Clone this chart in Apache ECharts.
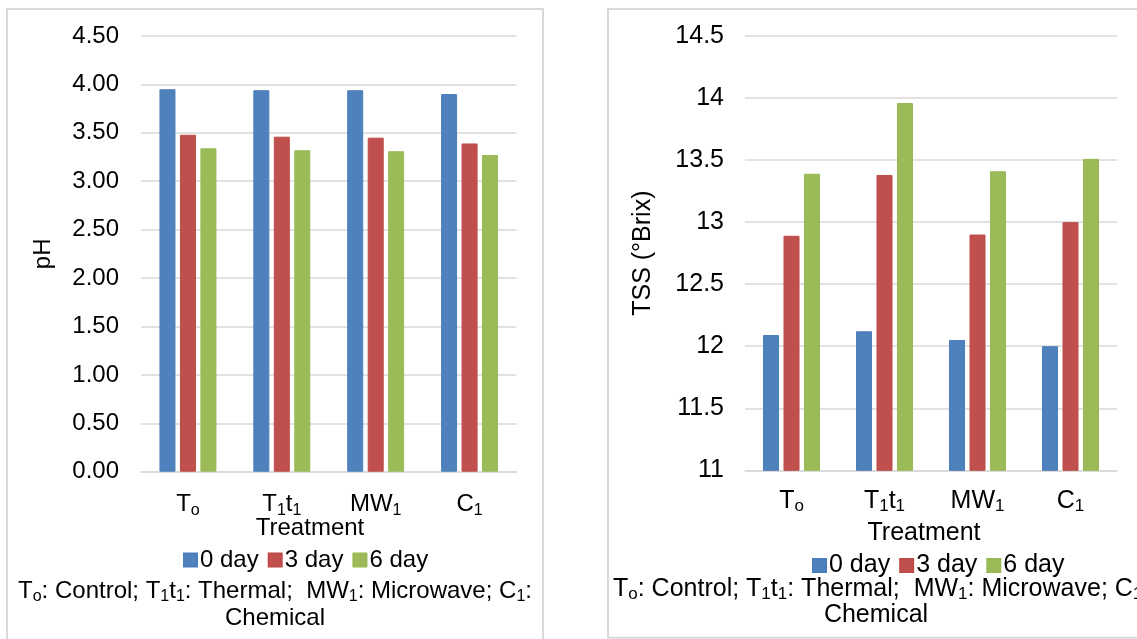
<!DOCTYPE html>
<html>
<head>
<meta charset="utf-8">
<script src="https://cdn.jsdelivr.net/npm/echarts@6/dist/echarts.min.js"></script>
<style>
  html, body { margin: 0; padding: 0; background: #fff; }
  #main { width: 1137px; height: 639px; }
</style>
</head>
<body>
<div id="main"></div>
<script>
// categories as rich text (subscripts)
var categories = ["{a|T}{s|o}", "{a|T}{s|1}{a|t}{s|1}", "{a|MW}{s|1}", "{a|C}{s|1}"];
var seriesNames = ["0 day", "3 day", "6 day"];

// pH values
var ph0 = [3.95, 3.94, 3.94, 3.90];
var ph3 = [3.48, 3.46, 3.45, 3.39];
var ph6 = [3.34, 3.32, 3.31, 3.27];

// TSS (°Brix) values
var tss0 = [12.09, 12.12, 12.05, 12.00];
var tss3 = [12.89, 13.38, 12.90, 13.00];
var tss6 = [13.39, 13.96, 13.41, 13.51];

var colors = ["#4F81BD", "#C0504D", "#9BBB59"];
var borders = ["#4A7EBB", "#BE4B48", "#98B954"];

var footnote = "{a|T}{s|o}{a|: Control; T}{s|1}{a|t}{s|1}{a|: Thermal;  MW}{s|1}{a|: Microwave; C}{s|1}{a|:}";

var fontFamily = "'Liberation Sans', Arial, sans-serif";
var fsL = 24, fsR = 25;

function rich(size) {
  return {
    a: { fontSize: size, lineHeight: 28, color: "#000", fontFamily: fontFamily },
    s: { fontSize: Math.round(size * 0.68), lineHeight: 16, verticalAlign: "bottom", color: "#000", fontFamily: fontFamily }
  };
}

var chart = echarts.init(document.getElementById("main"));

function makeSeries(data, i, axis) {
  return {
    name: seriesNames[i],
    type: "bar",
    xAxisIndex: axis,
    yAxisIndex: axis,
    data: data,
    barWidth: 16,
    barGap: "28%",
    itemStyle: { color: colors[i], borderColor: borders[i], borderWidth: 1 },
    animation: false
  };
}

var gridLine = { lineStyle: { color: "#D9D9D9", width: 1.5 } };

chart.setOption({
  backgroundColor: "#fff",
  textStyle: { fontFamily: fontFamily },
  grid: [
    { left: 141, right: 620.5, top: 36, bottom: 167.3 },
    { left: 745, right: 20, top: 36, bottom: 168.7 }
  ],
  xAxis: [
    {
      type: "category", gridIndex: 0, data: categories,
      axisTick: { show: false },
      axisLine: gridLine,
      axisLabel: { interval: 0, margin: 19, rich: rich(fsL) }
    },
    {
      type: "category", gridIndex: 1, data: categories,
      axisTick: { show: false },
      axisLine: gridLine,
      axisLabel: { interval: 0, margin: 17, rich: rich(fsR) }
    }
  ],
  yAxis: [
    {
      type: "value", gridIndex: 0, min: 0, max: 4.5, interval: 0.5,
      name: "pH", nameLocation: "middle", nameGap: 86,
      nameTextStyle: { fontSize: fsL, color: "#000", fontFamily: fontFamily },
      axisLine: { show: false }, axisTick: { show: false },
      splitLine: gridLine,
      axisLabel: {
        margin: 22, fontSize: fsL, color: "#000", fontFamily: fontFamily,
        formatter: function (v) { return v.toFixed(2); }
      }
    },
    {
      type: "value", gridIndex: 1, min: 11, max: 14.5, interval: 0.5,
      name: "TSS (°Brix)", nameLocation: "middle", nameGap: 89,
      nameTextStyle: { fontSize: fsR, color: "#000", fontFamily: fontFamily },
      axisLine: { show: false }, axisTick: { show: false },
      splitLine: gridLine,
      axisLabel: { margin: 21, fontSize: fsR, color: "#000", fontFamily: fontFamily }
    }
  ],
  legend: [
    {
      data: seriesNames, left: 178, top: 543, itemWidth: 13, itemHeight: 13, itemGap: 9,
      icon: "rect", textStyle: { fontSize: fsL, color: "#000", fontFamily: fontFamily, padding: [0, 0, 0, -2] }
    },
    {
      data: seriesNames, left: 807, top: 548, itemWidth: 13, itemHeight: 13, itemGap: 9,
      icon: "rect", textStyle: { fontSize: fsR, color: "#000", fontFamily: fontFamily, padding: [0, 0, 0, -2] }
    }
  ],
  graphic: [
    { type: "rect", silent: true, shape: { x: 7, y: 9, width: 536, height: 640 },
      style: { fill: null, stroke: "#D9D9D9", lineWidth: 2 }, z: -1 },
    { type: "rect", silent: true, shape: { x: 608, y: 9, width: 540, height: 628.7 },
      style: { fill: null, stroke: "#D9D9D9", lineWidth: 2 }, z: -1 },
    { type: "text", x: 310, y: 528, style: { text: "Treatment", fontSize: fsL, fill: "#000", fontFamily: fontFamily, align: "center", verticalAlign: "middle" } },
    { type: "text", x: 924, y: 533, style: { text: "Treatment", fontSize: fsR, fill: "#000", fontFamily: fontFamily, align: "center", verticalAlign: "middle" } },
    { type: "text", x: 275, y: 591, style: { text: footnote, rich: rich(fsL), align: "center", verticalAlign: "middle" } },
    { type: "text", x: 275, y: 618, style: { text: "Chemical", fontSize: fsL, fill: "#000", fontFamily: fontFamily, align: "center", verticalAlign: "middle" } },
    { type: "text", x: 613, y: 589, style: { text: footnote, rich: rich(fsR), align: "left", verticalAlign: "middle" } },
    { type: "text", x: 876, y: 615, style: { text: "Chemical", fontSize: fsR, fill: "#000", fontFamily: fontFamily, align: "center", verticalAlign: "middle" } }
  ],
  series: [
    makeSeries(ph0, 0, 0), makeSeries(ph3, 1, 0), makeSeries(ph6, 2, 0),
    makeSeries(tss0, 0, 1), makeSeries(tss3, 1, 1), makeSeries(tss6, 2, 1)
  ]
});
</script>
</body>
</html>
